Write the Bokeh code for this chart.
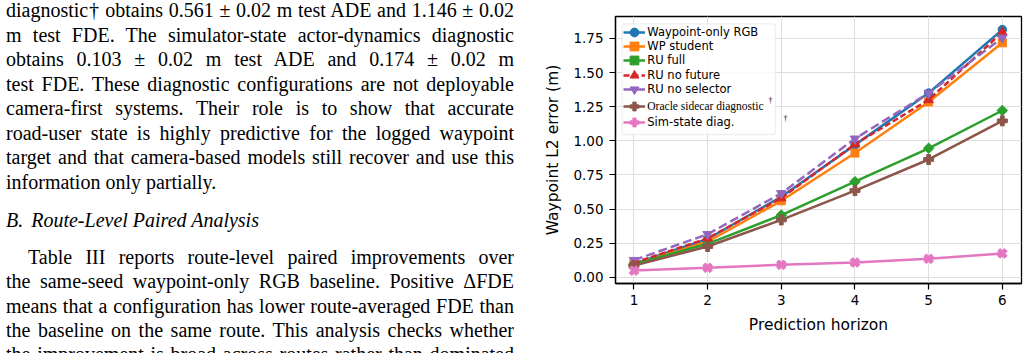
import math
from bokeh.plotting import figure
from bokeh.models import (Legend, LegendItem, BoxAnnotation, Label, Div,
                          FixedTicker, NumeralTickFormatter, Range1d)
from bokeh.layouts import row
from bokeh.embed import file_html
from bokeh.resources import INLINE

# ---------------- data ----------------
horizon = [1, 2, 3, 4, 5, 6]
wp_rgb = [0.100, 0.280, 0.590, 0.970, 1.350, 1.815]
wp_student = [0.095, 0.260, 0.560, 0.910, 1.285, 1.718]
ru_full = [0.095, 0.245, 0.455, 0.700, 0.945, 1.222]
ru_no_future = [0.105, 0.285, 0.580, 0.975, 1.300, 1.796]
ru_no_selector = [0.125, 0.315, 0.615, 1.015, 1.350, 1.755]
oracle_sidecar = [0.085, 0.225, 0.420, 0.635, 0.863, 1.146]
sim_state = [0.049, 0.069, 0.091, 0.108, 0.135, 0.174]

series_names = ["Waypoint-only RGB", "WP student", "RU full", "RU no future",
                "RU no selector", "Oracle sidecar diagnostic", "Sim-state diag."]
series_values = [wp_rgb, wp_student, ru_full, ru_no_future, ru_no_selector,
                 oracle_sidecar, sim_state]
y_ticks = [0.0, 0.25, 0.5, 0.75, 1.0, 1.25, 1.5, 1.75]
x_label = "Prediction horizon"
y_label = "Waypoint L2 error (m)"

# ---------------- styles ----------------
colors = ["#1f77b4", "#ff7f0e", "#2ca02c", "#d62728", "#9467bd", "#8c564b", "#e377c2"]
markers = ["circle", "square", "square", "triangle", "inverted_triangle", "plus", "plus"]
marker_angles = [0, 0, math.pi / 4, 0, 0, 0, math.pi / 4]
marker_sizes = [8.5, 8, 7.5, 9.5, 9.5, 10, 10]
dashes = ["solid", "solid", "solid", "6 3", "9 4", "solid", "solid"]
legend_fonts = ["DejaVu Sans"] * 5 + ["Liberation Serif", "DejaVu Sans"]
legend_centers = [31.7, 46.0, 60.3, 74.7, 89.0, 105.5, 122.0]  # screen y of item centres

FRAME_L, FRAME_T = 615, 16
FRAME_B = 283

p = figure(width=488, height=353, output_backend="svg", toolbar_location=None,
           x_range=Range1d(0.75, 6.26), y_range=Range1d(-0.046, 1.911),
           min_border_left=FRAME_L - 540, min_border_right=7,
           min_border_top=FRAME_T, min_border_bottom=353 - FRAME_B)
p.background_fill_color = "white"
p.border_fill_color = "white"
p.outline_line_color = "black"
p.outline_line_width = 1.3
p.outline_line_alpha = 1.0

p.xaxis.ticker = FixedTicker(ticks=horizon)
p.yaxis.ticker = FixedTicker(ticks=y_ticks)
p.yaxis.formatter = NumeralTickFormatter(format="0.00")
for ax in (p.xaxis, p.yaxis):
    ax.axis_line_color = "black"
    ax.axis_line_width = 1.3
    ax.major_tick_out = 6
    ax.major_tick_in = 0
    ax.major_tick_line_width = 1.2
    ax.major_tick_line_color = "black"
    ax.minor_tick_line_color = None
    ax.major_label_text_font = "DejaVu Sans"
    ax.major_label_text_font_size = "13.5px"
    ax.major_label_text_color = "black"
    ax.axis_label_text_font = "DejaVu Sans"
    ax.axis_label_text_font_size = "15.5px"
    ax.axis_label_text_font_style = "normal"
    ax.axis_label_text_color = "black"
p.xaxis.axis_label = x_label
p.yaxis.axis_label = y_label
p.xaxis.major_label_standoff = 5
p.yaxis.major_label_standoff = 6
p.xaxis.axis_label_standoff = 8
p.yaxis.axis_label_standoff = 8

p.xgrid.grid_line_color = "#dedede"
p.ygrid.grid_line_color = "#dedede"
p.xgrid.grid_line_width = 1
p.ygrid.grid_line_width = 1

renderers = []
for name, vals, c, m, a, s, d in zip(series_names, series_values, colors, markers,
                                     marker_angles, marker_sizes, dashes):
    lr = p.line(horizon, vals, line_color=c, line_width=2.5, line_dash=d)
    sr = p.scatter(horizon, vals, marker=m, angle=a, size=s,
                   fill_color=c, line_color=c, line_width=1)
    renderers.append((lr, sr))

# legend frame
box = BoxAnnotation(left=6.7, right=160, bottom=FRAME_B - 134, top=FRAME_B - 23.3,
                    left_units="screen", right_units="screen",
                    top_units="screen", bottom_units="screen",
                    fill_color="white", fill_alpha=0.85,
                    line_color="#cccccc", line_width=1.3, border_radius=3)
p.add_layout(box)

for (lr, sr), name, font, cy in zip(renderers, series_names, legend_fonts, legend_centers):
    leg = Legend(items=[LegendItem(label=name, renderers=[lr, sr])],
                 location=(8.3, FRAME_B - cy - 11), orientation="vertical",
                 padding=0, spacing=0, margin=0,
                 glyph_width=22, glyph_height=22, label_height=22, label_standoff=2,
                 border_line_color=None, background_fill_alpha=0,
                 label_text_font=font, label_text_font_size="11.5px",
                 label_text_color="black")
    p.add_layout(leg)

for tx, ty in [(155, FRAME_B - 100), (170, FRAME_B - 118)]:
    p.add_layout(Label(x=tx, y=ty, x_units="screen", y_units="screen", text="\u2020",
                       text_font="Liberation Serif", text_font_size="8px",
                       text_align="center", text_baseline="middle", text_color="black"))

# ---------------- left text column ----------------
LH = 24.5
col_left, col_width = 6, 508
text_lines = [
    ("diagnostic\u2020 obtains 0.561 \u00b1 0.02 m test ADE and 1.146 \u00b1 0.02", 17.3, 0, True, False),
    ("m test FDE. The simulator-state actor-dynamics diagnostic", 41.8, 0, True, False),
    ("obtains 0.103 \u00b1 0.02 m test ADE and 0.174 \u00b1 0.02 m", 66.3, 0, True, False),
    ("test FDE. These diagnostic configurations are not deployable", 90.8, 0, True, False),
    ("camera-first systems. Their role is to show that accurate", 115.3, 0, True, False),
    ("road-user state is highly predictive for the logged waypoint", 139.8, 0, True, False),
    ("target and that camera-based models still recover and use this", 164.3, 0, True, False),
    ("information only partially.", 188.8, 0, False, False),
    ("B.<span style='display:inline-block;width:8px'></span>Route-Level Paired Analysis", 226.6, 0, False, True),
    ("Table III reports route-level paired improvements over", 264.0, 22, True, False),
    ("the same-seed waypoint-only RGB baseline. Positive \u0394FDE", 288.3, 0, True, False),
    ("means that a configuration has lower route-averaged FDE than", 312.6, 0, True, False),
    ("the baseline on the same route. This analysis checks whether", 336.9, 0, True, False),
    ("the improvement is broad across routes rather than dominated", 361.2, 0, True, False),
]
parts = []
for txt, base, indent, just, ital in text_lines:
    top = base - 19.0
    align = "text-align:justify;text-align-last:justify;" if just else "text-align:left;"
    style = ("position:absolute;left:%.1fpx;top:%.1fpx;width:%.1fpx;height:%.1fpx;"
             "line-height:%.1fpx;overflow:hidden;%s%s" %
             (col_left + indent, top, col_width - indent, LH, LH, align,
              "font-style:italic;" if ital else ""))
    parts.append("<div style=\"%s\">%s</div>" % (style, txt))
html = ("<div style=\"position:relative;width:540px;height:353px;overflow:hidden;"
        "font-family:'Liberation Serif',serif;font-size:20px;color:#000;\">%s</div>"
        % "".join(parts))
div = Div(text=html, width=540, height=353, margin=0)

layout = row(div, p, spacing=0)
open("out.html", "w").write(file_html(layout, INLINE))
